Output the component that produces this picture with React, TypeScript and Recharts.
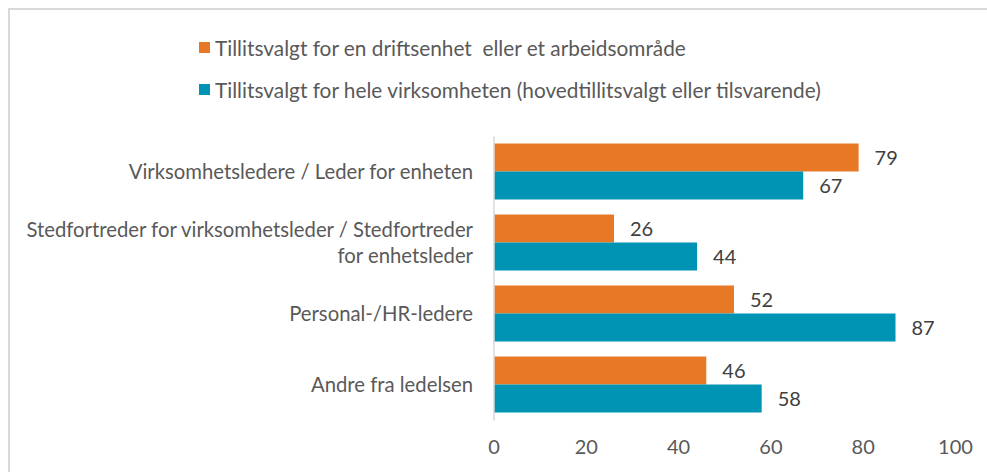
import React from "react"
import { BarChart, Bar, XAxis, YAxis, Legend, LabelList } from "recharts"

const FONT = "Lato, 'Noto Sans', sans-serif"

const categories = [
  "Virksomhetsledere / Leder for enheten",
  "Stedfortreder for virksomhetsleder / Stedfortreder\nfor enhetsleder",
  "Personal-/HR-ledere",
  "Andre fra ledelsen",
]
const driftsenhet = [79, 26, 52, 46]
const heleVirksomheten = [67, 44, 87, 58]
const xTicks = [0, 20, 40, 60, 80, 100]

const seriesDrift = "Tillitsvalgt for en driftsenhet  eller et arbeidsområde"
const seriesHele = "Tillitsvalgt for hele virksomheten (hovedtillitsvalgt eller tilsvarende)"

const data = categories.map((name, i) => ({
  name,
  drift: driftsenhet[i],
  hele: heleVirksomheten[i],
}))

const CategoryTick = (props: any) => {
  const { x, y, payload } = props
  const lines = String(payload.value).split("\n")
  const lh = 26
  const start = -((lines.length - 1) * lh) / 2 + 7
  return (
    <text x={x} y={y} textAnchor="end" fill="#595959" fontSize={20.3} fontFamily={FONT}>
      {lines.map((l, i) => (
        <tspan key={i} x={x} dy={i === 0 ? start : lh}>
          {l}
        </tspan>
      ))}
    </text>
  )
}

const LegendBox = (props: any) => {
  const items = props.payload || []
  return (
    <div style={{ fontFamily: FONT, fontSize: 20.8, color: "#595959" }}>
      {items.map((it: any) => (
        <div
          key={it.value}
          style={{ display: "flex", alignItems: "center", height: 26, marginBottom: 16, whiteSpace: "pre" }}
        >
          <span style={{ width: 11, height: 11, background: it.color, marginRight: 5, display: "inline-block" }} />
          <span>{it.value}</span>
        </div>
      ))}
    </div>
  )
}

export default function App() {
  return (
    <div style={{ position: "absolute", left: 0, top: 0, width: 987, height: 472, overflow: "hidden", background: "#fff" }}>
      <div
        style={{
          position: "absolute",
          left: 8,
          top: 8,
          right: 0,
          bottom: 0,
          borderTop: "2px solid #d9d9d9",
          borderLeft: "2px solid #d9d9d9",
          pointerEvents: "none",
        }}
      />
      <BarChart
        width={987}
        height={472}
        data={data}
        layout="vertical"
        margin={{ top: 136.5, right: 31.5, bottom: 21.5, left: 0 }}
        barCategoryGap="10%"
        barGap={0}
      >
        <XAxis
          type="number"
          domain={[0, 100]}
          ticks={xTicks}
          axisLine={false}
          tickLine={false}
          tickSize={0}
          tickMargin={19}
          height={30}
          tick={{ fill: "#595959", fontSize: 20, fontFamily: FONT }}
        />
        <YAxis
          type="category"
          dataKey="name"
          width={494}
          axisLine={{ stroke: "#d9d9d9", strokeWidth: 1.5 }}
          tickLine={false}
          tickSize={0}
          tickMargin={21}
          tick={<CategoryTick />}
        />
        <Legend
          layout="vertical"
          align="center"
          verticalAlign="middle"
          wrapperStyle={{ top: 34, left: 199, width: "auto", height: "auto" }}
          content={<LegendBox />}
        />
        <Bar dataKey="drift" name={seriesDrift} fill="#E77825" isAnimationActive={false}>
          <LabelList dataKey="drift" position="right" offset={16} fill="#404040" fontSize={20} fontFamily={FONT} />
        </Bar>
        <Bar dataKey="hele" name={seriesHele} fill="#0094B4" isAnimationActive={false}>
          <LabelList dataKey="hele" position="right" offset={16} fill="#404040" fontSize={20} fontFamily={FONT} />
        </Bar>
      </BarChart>
    </div>
  )
}
